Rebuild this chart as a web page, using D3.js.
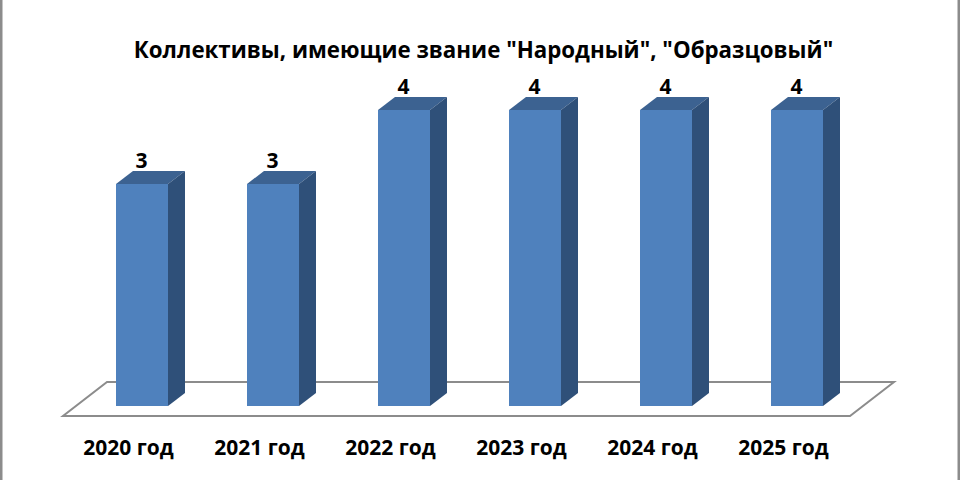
<!DOCTYPE html>
<html><head><meta charset="utf-8">
<script src="https://cdn.jsdelivr.net/npm/d3@7"></script>
<style>html,body{margin:0;background:#fff}svg{display:block}</style></head>
<body><svg id="c" width="960" height="480"></svg>
<script>
const categories=["2020 год","2021 год","2022 год","2023 год","2024 год","2025 год"];
const values=[3,3,4,4,4,4];
const chartTitle='Коллективы, имеющие звание "Народный", "Образцовый"';
const FONT='"Open Sans","Noto Sans",sans-serif';
const svg=d3.select("#c");
const W=960,H=480,dx=17,dy=13;
svg.append("rect").attr("x",1).attr("y",-3).attr("width",W-2).attr("height",H+6).attr("fill","#fff").attr("stroke","#8c8c8c").attr("stroke-width",3);
const x=d3.scaleBand().domain(categories).range([63,849]);
const y=d3.scaleLinear().domain([0,4]).range([406,110]);
const barW=52, barOff=53;
const fl=[[63,416],[850,416],[894,382],[107,382]];
svg.append("path").attr("d",d3.line()(fl)+"Z").attr("fill","#fff").attr("stroke","#8c8c8c").attr("stroke-width",2);
const g=svg.append("g").selectAll("g").data(categories.map((c,i)=>({c,v:values[i]}))).join("g");
const L=d3.line();
g.append("path").attr("fill","#4f81bd").attr("d",d=>{const a=x(d.c)+barOff,t=y(d.v),b=y(0);return L([[a,t],[a+barW,t],[a+barW,b],[a,b]])+"Z";});
g.append("path").attr("fill","#3c6291").attr("d",d=>{const a=x(d.c)+barOff,t=y(d.v);return L([[a,t],[a+barW,t],[a+barW+dx,t-dy],[a+dx,t-dy]])+"Z";});
g.append("path").attr("fill","#2f5079").attr("d",d=>{const a=x(d.c)+barOff+barW,t=y(d.v),b=y(0);return L([[a,t],[a+dx,t-dy],[a+dx,b-dy],[a,b]])+"Z";});
g.append("text").attr("x",d=>x(d.c)+barOff+25.5).attr("y",d=>y(d.v)-16.5).attr("text-anchor","middle")
 .attr("font-family",FONT).attr("font-weight",700).attr("font-size",21).attr("fill","#000").text(d=>d.v);
const ax=svg.append("g").attr("transform","translate(0,416)").call(d3.axisBottom(x).tickSize(0).tickPadding(24));
ax.select(".domain").remove();
ax.selectAll("text").attr("font-family",FONT).attr("font-weight",700).attr("font-size",21).attr("fill","#000");
svg.append("text").attr("x",483.5).attr("y",58).attr("text-anchor","middle").attr("font-family",FONT).attr("font-weight",700).attr("font-size",22.3).attr("fill","#000").text(chartTitle);
</script></body></html>
